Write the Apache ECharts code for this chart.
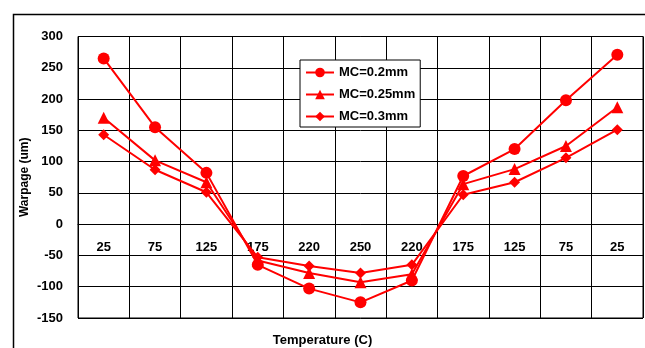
<!DOCTYPE html>
<html>
<head>
<meta charset="utf-8">
<script src="https://cdn.jsdelivr.net/npm/echarts@6/dist/echarts.min.js"></script>
<style>html,body{margin:0;padding:0;background:#fff;}#c{width:645px;height:348px;}</style>
</head>
<body>
<div id="c"></div>
<script>
const categories = ['25','75','125','175','220','250','220','175','125','75','25'];
const mc02 = [265, 155, 82, -65, -103, -125, -90, 77, 120, 198, 271];
const mc025 = [170, 102, 67, -58, -78, -93, -80, 64, 88, 125, 187];
const mc03 = [143, 87, 51, -53, -67, -78, -65, 47, 67, 106, 151];
const yTicks = {min: -150, max: 300, interval: 50};

const FONT = 'Liberation Sans, Arial, sans-serif';
const gridTop = 36.5, gridBottom = 30, H = 348;
const plotH = H - gridTop - gridBottom;
const zeroOffset = -plotH * (0 - yTicks.min) / (yTicks.max - yTicks.min);

const chart = echarts.init(document.getElementById('c'), null, {renderer: 'canvas'});
const mk = (name, data, symbol, size) => ({
  name, type: 'line', data, symbol, symbolSize: size,
  lineStyle: {color: '#ff0000', width: 2},
  itemStyle: {color: '#ff0000'},
  animation: false
});
chart.setOption({
  animation: false,
  grid: {left: 78, top: gridTop, right: 2, bottom: gridBottom, show: true, borderColor: '#000', borderWidth: 1},
  xAxis: {
    type: 'category', data: categories, boundaryGap: true,
    offset: zeroOffset,
    axisLine: {onZero: false, lineStyle: {color: '#000', width: 1}},
    axisTick: {show: false},
    axisLabel: {color: '#000', fontFamily: FONT, fontWeight: 'bold', fontSize: 13, margin: 17, interval: 0},
    splitLine: {show: true, interval: 0, lineStyle: {color: '#000', width: 1}}
  },
  yAxis: {
    type: 'value', min: yTicks.min, max: yTicks.max, interval: yTicks.interval,
    name: 'Warpage (um)', nameLocation: 'middle', nameGap: 47, nameMoveOverlap: false,
    nameTextStyle: {color: '#000', fontFamily: FONT, fontWeight: 'bold', fontSize: 12},
    axisLine: {show: true, lineStyle: {color: '#000', width: 1}},
    axisTick: {show: false},
    axisLabel: {color: '#000', fontFamily: FONT, fontWeight: 'bold', fontSize: 13, margin: 15},
    splitLine: {show: true, lineStyle: {color: '#000', width: 1}}
  },
  legend: {
    orient: 'vertical', left: 300, top: 60,
    itemWidth: 28, itemHeight: 12, itemGap: 9,
    padding: [6, 5, 4, 5],
    backgroundColor: '#fff', borderColor: '#000', borderWidth: 1,
    textStyle: {color: '#000', fontFamily: FONT, fontWeight: 'bold', fontSize: 13},
    data: ['MC=0.2mm', 'MC=0.25mm', 'MC=0.3mm']
  },
  graphic: [
    {type: 'rect', shape: {x: 13.5, y: 14.5, width: 640, height: 340}, style: {fill: 'none', stroke: '#000', lineWidth: 1.5}, silent: true, z: -1},
    {type: 'text', left: 'center', top: 334, style: {text: 'Temperature (C)', fill: '#000', font: 'bold 13px ' + FONT, textAlign: 'center'}}
  ],
  series: [
    mk('MC=0.2mm', mc02, 'circle', 12),
    mk('MC=0.25mm', mc025, 'triangle', 12),
    mk('MC=0.3mm', mc03, 'diamond', 11)
  ]
});
</script>
</body>
</html>
